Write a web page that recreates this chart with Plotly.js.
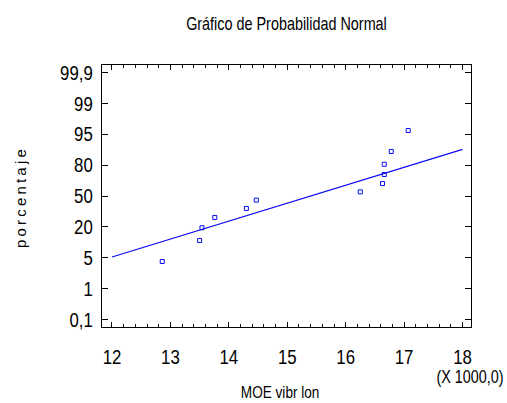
<!DOCTYPE html>
<html>
<head>
<meta charset="utf-8">
<script src="https://cdn.plot.ly/plotly-3.0.1.min.js"></script>
<style>
  html, body { margin: 0; padding: 0; background: #fff; }
  #chart { width: 507px; height: 403px; }
  .annotation[data-index="0"] text { letter-spacing: 3.2px; }
</style>
</head>
<body>
<div id="chart"></div>
<script>
// MOE (vibración longitudinal) de 12 probetas, ordenado de menor a mayor
const moeValues = [12860, 13500, 13540, 13760, 14300, 14470, 16250, 16630, 16660, 16660, 16780, 17070];
// Porcentaje acumulado asignado a cada observación
const cumPercent = [5.1, 13.3, 21.4, 29.6, 37.8, 45.9, 54.1, 62.2, 70.4, 78.6, 86.7, 94.9];

// Recta de referencia (distribución normal ajustada)
const fitMean = 15400;
const fitSigma = 2234;
const fitRangeX = [12000, 18000];

// Ejes
const xTickVals = [12000, 13000, 14000, 15000, 16000, 17000, 18000];
const xTickText = ['12', '13', '14', '15', '16', '17', '18'];
const yTickText = ['0,1', '1', '5', '20', '50', '80', '95', '99', '99,9'];

// Cuantil de la normal estándar (algoritmo de Acklam)
function normInv(p) {
  const a = [-3.969683028665376e+01, 2.209460984245205e+02, -2.759285104469687e+02,
             1.383577518672690e+02, -3.066479806614716e+01, 2.506628277459239e+00];
  const b = [-5.447609879822406e+01, 1.615858368580409e+02, -1.556989798598866e+02,
             6.680131188771972e+01, -1.328068155288572e+01];
  const c = [-7.784894002430293e-03, -3.223964580411365e-01, -2.400758277161838e+00,
             -2.549671032506848e+00, 4.374664141464968e+00, 2.938163982698783e+00];
  const d = [7.784695709041462e-03, 3.224671290700398e-01, 2.445134137142996e+00,
             3.754408661907416e+00];
  const pl = 0.02425, ph = 1 - pl;
  let q, r;
  if (p < pl) {
    q = Math.sqrt(-2 * Math.log(p));
    return (((((c[0]*q+c[1])*q+c[2])*q+c[3])*q+c[4])*q+c[5]) /
           ((((d[0]*q+d[1])*q+d[2])*q+d[3])*q+1);
  }
  if (p <= ph) {
    q = p - 0.5; r = q * q;
    return (((((a[0]*r+a[1])*r+a[2])*r+a[3])*r+a[4])*r+a[5])*q /
           (((((b[0]*r+b[1])*r+b[2])*r+b[3])*r+b[4])*r+1);
  }
  q = Math.sqrt(-2 * Math.log(1 - p));
  return -(((((c[0]*q+c[1])*q+c[2])*q+c[3])*q+c[4])*q+c[5]) /
          ((((d[0]*q+d[1])*q+d[2])*q+d[3])*q+1);
}

// Escala probabilística: posiciones en unidades z
const zTop = normInv(0.999);
const yTickVals = yTickText.map((_, i) => zTop * (i - 4) / 4);
const pointsZ = cumPercent.map(p => normInv(p / 100));
const lineZ = fitRangeX.map(x => (x - fitMean) / fitSigma);

const sans = '"Liberation Sans", Arial, sans-serif';
const NARROW = 0.8;   // compresión horizontal para imitar una fuente estrecha

const traces = [
  {
    x: fitRangeX, y: lineZ, type: 'scatter', mode: 'lines',
    line: { color: '#0a0af5', width: 1.2 },
    hoverinfo: 'skip', showlegend: false
  },
  {
    x: moeValues, y: pointsZ, type: 'scatter', mode: 'markers',
    marker: { symbol: 'square-open', size: 4, color: '#0a0af5', line: { width: 1 } },
    showlegend: false
  }
];

const layout = {
  width: 507, height: 403,
  margin: { l: 102, r: 36, t: 65, b: 76, pad: 0 },
  paper_bgcolor: '#fff', plot_bgcolor: '#fff',
  showlegend: false,
  title: {
    text: 'Gráfico de Probabilidad Normal',
    font: { family: sans, size: 18, color: '#000' },
    x: 0.5, xref: 'paper', xanchor: 'center',
    y: 1 - 24 / 403, yref: 'container', yanchor: 'middle'
  },
  xaxis: {
    range: [11829, 18145],
    tickvals: xTickVals, ticktext: xTickText,
    ticks: 'inside', ticklen: 5, tickwidth: 1, tickcolor: '#000',
    minor: { dtick: 200, ticks: 'inside', ticklen: 3, tickwidth: 1, tickcolor: '#000' },
    showline: true, linecolor: '#000', linewidth: 1, mirror: 'ticks',
    showgrid: false, zeroline: false,
    tickfont: { family: sans, size: 21, color: '#000' },
    ticklabelstandoff: 11
  },
  yaxis: {
    range: [-3.27, 3.27],
    tickvals: yTickVals, ticktext: yTickText,
    ticks: 'inside', ticklen: 6, tickwidth: 1, tickcolor: '#000',
    showline: true, linecolor: '#000', linewidth: 1, mirror: 'ticks',
    showgrid: false, zeroline: false,
    tickfont: { family: sans, size: 21, color: '#000' },
    ticklabelstandoff: 4
  },
  annotations: [
    {
      text: 'porcentaje', textangle: -90,
      xref: 'paper', yref: 'paper', x: -0.2224, y: 0.4956,
      xanchor: 'center', yanchor: 'middle', showarrow: false,
      font: { family: sans, size: 15, color: '#000' }
    },
    {
      text: 'MOE vibr lon',
      xref: 'paper', yref: 'paper', x: 0.483, y: -0.2495,
      xanchor: 'center', yanchor: 'middle', showarrow: false,
      font: { family: sans, size: 17, color: '#000' }
    },
    {
      text: '(X 1000,0)',
      xref: 'paper', yref: 'paper', x: 0.998, y: -0.192,
      xanchor: 'center', yanchor: 'middle', showarrow: false,
      font: { family: sans, size: 18, color: '#000' }
    }
  ]
};

Plotly.newPlot('chart', traces, layout, { displayModeBar: false, staticPlot: true }).then(gd => {
  // Comprime horizontalmente los textos alrededor de su punto de anclaje
  gd.querySelectorAll('svg text').forEach(t => {
    if (t.closest('.annotation[data-index="0"]')) return;
    const x0 = parseFloat(t.getAttribute('x')) || 0;
    const tr = t.getAttribute('transform') || '';
    t.setAttribute('transform',
      `${tr} translate(${x0},0) scale(${NARROW},1) translate(${-x0},0)`.trim());
  });
});
</script>
</body>
</html>
